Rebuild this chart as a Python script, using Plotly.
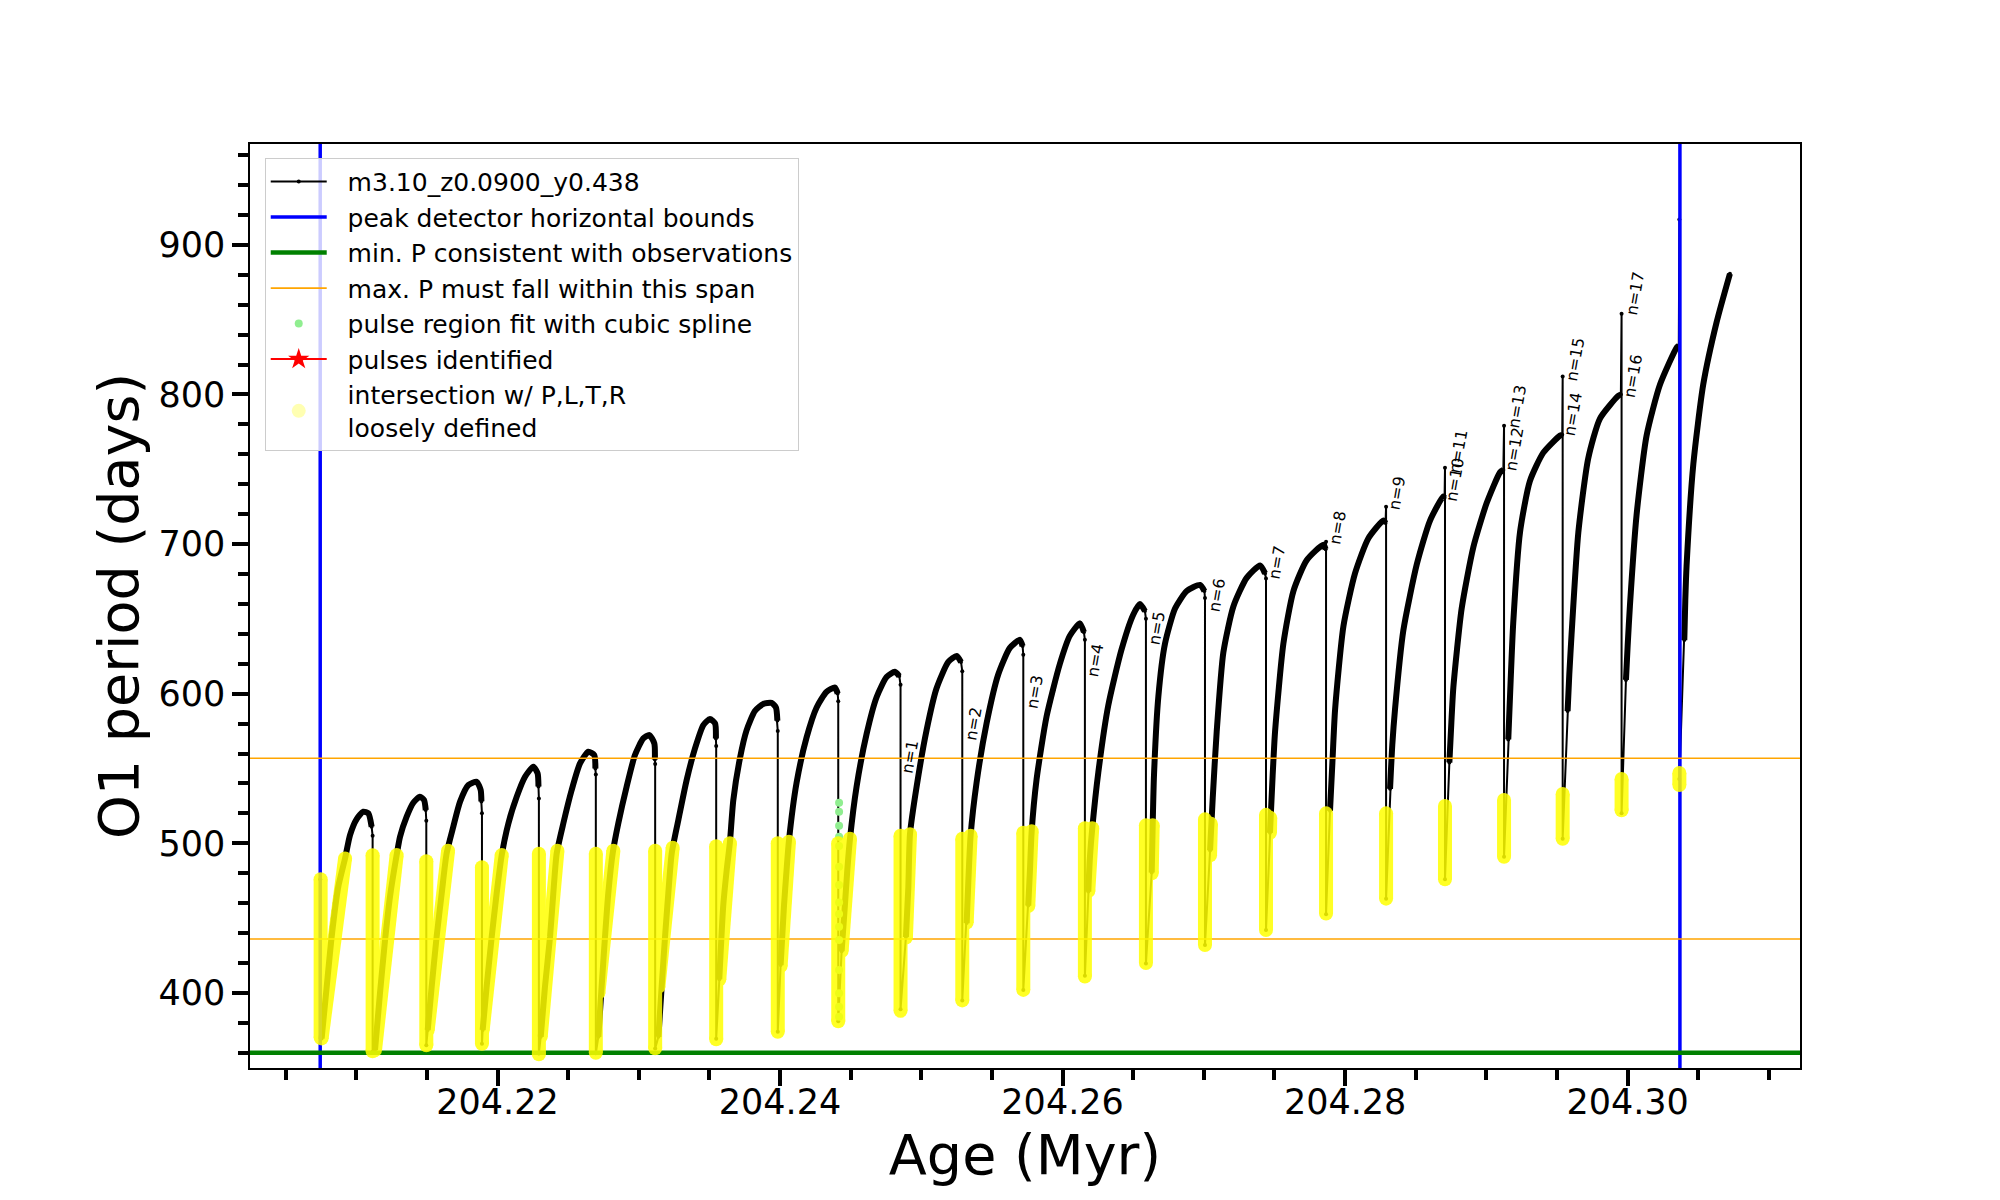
import plotly.graph_objects as go

# ---------------- data ----------------
start_age = [204.20745, 204.20748]
start_period = [476.0, 369.6]

rise_age = [
    [204.20755, 204.20791, 204.20826, 204.20873, 204.20921, 204.20956, 204.21003, 204.21050, 204.21086, 204.21109],
    [204.21133, 204.21168, 204.21204, 204.21239, 204.21286, 204.21310, 204.21357, 204.21404, 204.21451, 204.21480, 204.21492],
    [204.21506, 204.21534, 204.21569, 204.21605, 204.21640, 204.21687, 204.21735, 204.21794, 204.21853, 204.21881, 204.21886],
    [204.21895, 204.21923, 204.21959, 204.21994, 204.22030, 204.22077, 204.22136, 204.22195, 204.22254, 204.22284, 204.22290],
    [204.22306, 204.22336, 204.22372, 204.22395, 204.22419, 204.22466, 204.22525, 204.22584, 204.22643, 204.22685, 204.22693],
    [204.22714, 204.22737, 204.22761, 204.22784, 204.22815, 204.22855, 204.22914, 204.22973, 204.23032, 204.23075, 204.23110, 204.23114],
    [204.23139, 204.23162, 204.23186, 204.23209, 204.23233, 204.23280, 204.23339, 204.23398, 204.23457, 204.23504, 204.23540, 204.23546],
    [204.23570, 204.23598, 204.23622, 204.23645, 204.23669, 204.23716, 204.23763, 204.23822, 204.23881, 204.23940, 204.23971, 204.23981],
    [204.24004, 204.24028, 204.24046, 204.24063, 204.24117, 204.24188, 204.24259, 204.24330, 204.24389, 204.24408],
    [204.24436, 204.24459, 204.24476, 204.24495, 204.24542, 204.24613, 204.24684, 204.24754, 204.24813, 204.24844],
    [204.24891, 204.24908, 204.24920, 204.24967, 204.25037, 204.25108, 204.25191, 204.25250, 204.25281],
    [204.25321, 204.25333, 204.25349, 204.25391, 204.25462, 204.25545, 204.25627, 204.25698, 204.25717],
    [204.25757, 204.25769, 204.25781, 204.25816, 204.25887, 204.25981, 204.26052, 204.26123, 204.26151],
    [204.26182, 204.26194, 204.26210, 204.26253, 204.26323, 204.26417, 204.26500, 204.26548, 204.26583],
    [204.26631, 204.26638, 204.26647, 204.26678, 204.26725, 204.26796, 204.26879, 204.26973, 204.27004],
    [204.27044, 204.27063, 204.27091, 204.27138, 204.27209, 204.27303, 204.27398, 204.27433],
    [204.27468, 204.27487, 204.27504, 204.27563, 204.27634, 204.27728, 204.27846, 204.27862],
    [204.27893, 204.27910, 204.27929, 204.27988, 204.28070, 204.28165, 204.28271, 204.28286],
    [204.28318, 204.28334, 204.28353, 204.28412, 204.28507, 204.28601, 204.28695, 204.28704],
    [204.28738, 204.28752, 204.28766, 204.28825, 204.28908, 204.29002, 204.29097, 204.29120],
    [204.29155, 204.29172, 204.29190, 204.29238, 204.29308, 204.29403, 204.29521, 204.29537],
    [204.29575, 204.29587, 204.29603, 204.29651, 204.29721, 204.29804, 204.29934, 204.29952],
    [204.29988, 204.30000, 204.30016, 204.30063, 204.30134, 204.30229, 204.30347, 204.30362],
    [204.30401, 204.30408, 204.30417, 204.30465, 204.30535, 204.30630, 204.30724],
]
rise_period = [
    [369.6, 404.1, 437.5, 471.0, 489.9, 505.5, 516.2, 521.1, 520.0, 511.1],
    [361.8, 399.7, 435.3, 464.3, 492.1, 504.4, 517.8, 527.1, 531.1, 528.9, 522.2],
    [375.2, 404.1, 437.5, 466.5, 493.3, 511.1, 527.8, 538.9, 541.1, 535.6, 528.0],
    [375.2, 404.1, 437.5, 466.5, 492.1, 513.3, 531.1, 544.5, 551.2, 546.7, 538.0],
    [370.7, 404.1, 437.5, 466.5, 493.2, 513.3, 535.6, 553.4, 561.2, 559.0, 550.0],
    [370.7, 404.1, 437.5, 466.5, 493.2, 513.3, 537.8, 559.0, 570.1, 572.3, 566.8, 556.0],
    [370.7, 404.1, 437.5, 466.5, 493.2, 515.5, 542.3, 563.4, 579.0, 583.0, 580.1, 570.0],
    [409.2, 458.4, 481.8, 500.5, 528.7, 556.8, 575.5, 588.4, 593.1, 593.8, 590.8, 582.0],
    [418.6, 458.4, 481.8, 501.7, 540.4, 570.8, 590.8, 601.3, 604.1, 600.1],
    [427.9, 458.4, 481.8, 502.9, 538.0, 573.2, 597.8, 611.1, 614.6, 611.8],
    [437.3, 470.1, 506.4, 538.0, 575.5, 603.6, 621.2, 625.2, 621.2],
    [446.7, 474.8, 505.2, 540.4, 580.2, 613.0, 630.6, 636.0, 631.8],
    [458.4, 481.8, 507.6, 542.7, 584.9, 620.0, 638.8, 647.0, 641.1],
    [467.7, 491.2, 509.9, 547.4, 591.9, 629.4, 652.8, 659.9, 655.2],
    [480.5, 512.9, 545.2, 598.1, 633.4, 656.9, 668.6, 672.7, 668.6],
    [495.2, 530.5, 574.6, 627.5, 658.3, 677.4, 685.7, 680.4],
    [507.0, 545.2, 574.6, 633.4, 668.6, 689.2, 699.5, 696.5],
    [521.7, 554.0, 589.3, 645.1, 680.4, 703.9, 715.7, 714.0],
    [536.4, 565.8, 589.3, 642.2, 686.3, 715.7, 731.8, 731.0],
    [554.0, 580.5, 604.0, 656.9, 698.0, 727.4, 748.0, 749.5],
    [569.4, 609.2, 647.2, 707.9, 742.1, 761.1, 772.5, 773.0],
    [588.4, 613.0, 639.6, 707.9, 757.3, 783.9, 799.1, 800.0],
    [609.2, 632.0, 658.6, 719.3, 772.5, 806.6, 831.3, 832.5],
    [635.8, 662.4, 685.2, 753.5, 806.6, 848.4, 880.7],
]

drop_age = [204.21116, 204.21496, 204.21890, 204.22293, 204.22696, 204.23116, 204.23548,
            204.23984, 204.24412, 204.24853, 204.25290, 204.25722, 204.26158, 204.26590,
            204.27008, 204.27440, 204.27865, 204.28290, 204.28707, 204.29125, 204.29540,
            204.29957, 204.30366]
drop_top = [505.0, 515.0, 520.0, 530.0, 546.0, 553.0, 565.0, 575.0, 595.0, 606.0, 615.0,
            626.0, 636.0, 650.0, 664.0, 677.0, 701.5, 725.0, 751.0, 779.0, 812.0, 854.0, 917.0]
drop_min = [360.7, 365.0, 366.0, 359.5, 359.6, 362.9, 369.3, 374.0, 381.0, 389.0, 395.0,
            402.0, 411.5, 419.7, 432.0, 442.0, 452.6, 463.0, 476.0, 491.0, 503.0, 520.0, 543.0]

# "loosely defined" intersections (yellow): vertical spans on the drops
yellow_drop_age = [204.20748] + drop_age
yellow_drop_hi = [476, 492, 488, 484, 493, 493, 495, 498, 500, 500, 505, 503, 507, 510, 512,
                  516, 519, 520, 520, 525, 529, 533, 543, 547]
yellow_drop_lo = [370, 361, 365, 366, 359, 360, 363, 369, 374, 381, 388, 395, 402, 411, 420,
                  432, 442, 453, 463, 476, 491, 503, 522, 539]
# ... and on the beginning of the rises
yellow_rise_age0 = [204.20755, 204.21133, 204.21506, 204.21895, 204.22306, 204.22714, 204.23139,
                    204.23570, 204.24004, 204.24436, 204.24891, 204.25321, 204.25757, 204.26182,
                    204.26631, 204.27044, 204.27468]
yellow_rise_p0 = [369.6, 361.8, 375.2, 375.2, 370.7, 400.0, 404.0, 409.0, 418.0, 428.0, 437.0,
                  447.0, 458.0, 468.0, 480.0, 492.0, 507.0]
yellow_rise_age1 = [204.20921, 204.21286, 204.21650, 204.22030, 204.22424, 204.22820, 204.23240,
                    204.23645, 204.24063, 204.24495, 204.24920, 204.25349, 204.25781, 204.26210,
                    204.26638, 204.27050, 204.27470]
yellow_rise_p1 = [489.9, 492.1, 495.0, 492.1, 495.0, 495.0, 497.0, 500.0, 501.0, 503.0, 506.0,
                  505.0, 508.0, 510.0, 512.0, 513.0, 517.0]

# pulse region fitted with cubic spline (light green)
spline_age = [204.24418] * 15
spline_period = [527.1, 521.1, 511.7, 504.4, 498.2, 484.3, 472.1, 460.5, 452.7, 444.2, 435.3,
                 415.3, 399.7, 390.8, 384.1]

# pulse labels
label_text = ["n=%d" % i for i in range(1, 18)]
label_age = [204.24920, 204.25368, 204.25805, 204.26229, 204.26666, 204.27091, 204.27516,
             204.27945, 204.28365, 204.28778, 204.28799, 204.29195, 204.29217, 204.29615,
             204.29627, 204.30040, 204.30052]
label_period = [557.9, 580.2, 601.3, 622.4, 643.6, 665.7, 687.7, 711.3, 733.9, 743.0, 762.0,
                763.5, 792.0, 787.0, 823.5, 812.5, 867.5]

peak_bounds = [204.20745, 204.30370]
min_period_obs = 360.0
max_period_span = [436.0, 556.8]

x_range = [204.20248, 204.31220]
y_range = [349.8, 967.4]

FONT = "DejaVu Sans"
PAD = "&nbsp;&nbsp;"

# ---------------- build series ----------------
age, period = list(start_age), list(start_period)
thick_x, thick_y = [], []
for k in range(len(rise_age)):
    age += rise_age[k]
    period += rise_period[k]
    thick_x += rise_age[k] + [None]
    thick_y += rise_period[k] + [None]
    if k < len(drop_age):
        age += [drop_age[k], drop_age[k]]
        period += [drop_top[k], drop_min[k]]

yx, yy = [], []
for a, hi, lo in zip(yellow_drop_age, yellow_drop_hi, yellow_drop_lo):
    yx += [a, a, None]
    yy += [hi, lo, None]
for a0, p0, a1, p1 in zip(yellow_rise_age0, yellow_rise_p0, yellow_rise_age1, yellow_rise_p1):
    yx += [a0, a1, None]
    yy += [p0, p1, None]

fig = go.Figure()

fig.add_trace(go.Scatter(
    x=age, y=period, mode="lines+markers", name=PAD + "m3.10_z0.0900_y0.438",
    line=dict(color="black", width=2), marker=dict(color="black", size=4)))
fig.add_trace(go.Scatter(
    x=thick_x, y=thick_y, mode="lines", showlegend=False,
    line=dict(color="black", width=6, shape="spline", smoothing=0.6)))

fig.add_trace(go.Scatter(
    x=[peak_bounds[0], peak_bounds[0], None, peak_bounds[1], peak_bounds[1]],
    y=[y_range[0], y_range[1], None, y_range[0], y_range[1]],
    mode="lines", name=PAD + "peak detector horizontal bounds",
    line=dict(color="#0000ff", width=3.5)))
fig.add_trace(go.Scatter(
    x=x_range, y=[min_period_obs, min_period_obs], mode="lines",
    name=PAD + "min. P consistent with observations",
    line=dict(color="#008000", width=4.5)))
fig.add_trace(go.Scatter(
    x=[x_range[0], x_range[1], None, x_range[0], x_range[1]],
    y=[max_period_span[0], max_period_span[0], None, max_period_span[1], max_period_span[1]],
    mode="lines", name=PAD + "max. P must fall within this span",
    line=dict(color="#ffa500", width=1.6)))
fig.add_trace(go.Scatter(
    x=spline_age, y=spline_period, mode="markers",
    name=PAD + "pulse region fit with cubic spline",
    marker=dict(color="#90ee90", size=8)))
fig.add_trace(go.Scatter(
    x=[None], y=[None], mode="lines+markers", name=PAD + "pulses identified",
    line=dict(color="red", width=2),
    marker=dict(color="red", symbol="star", size=26)))
fig.add_trace(go.Scatter(
    x=yx, y=yy, mode="lines+markers", showlegend=False, opacity=0.85,
    line=dict(color="#ffff00", width=14), marker=dict(color="#ffff00", size=14)))
fig.add_trace(go.Scatter(
    x=[None], y=[None], mode="markers",
    name=PAD + "intersection w/ P,L,T,R<br>" + PAD + "loosely defined",
    marker=dict(color="rgba(255,255,0,0.3)", size=14)))

for t, a, p in zip(label_text, label_age, label_period):
    fig.add_annotation(x=a, y=p, text=t, showarrow=False, textangle=-80,
                       font=dict(family=FONT, size=16, color="black"),
                       xanchor="center", yanchor="middle")

fig.update_layout(
    width=1992, height=1192,
    margin=dict(l=242, r=200, t=136, b=132, pad=0),
    paper_bgcolor="white", plot_bgcolor="white",
    font=dict(family=FONT, color="black"),
    legend=dict(x=0.0095, y=0.985, xanchor="left", yanchor="top",
                bgcolor="rgba(255,255,255,0.8)", bordercolor="#cccccc", borderwidth=1,
                font=dict(family=FONT, size=25, color="black"),
                itemwidth=56, traceorder="normal"),
)
fig.update_xaxes(
    range=x_range, tick0=204.20, dtick=0.02, tickformat=".2f",
    showgrid=False, zeroline=False, showline=True, linecolor="black", linewidth=1.5, mirror=True,
    ticks="outside", ticklen=16, tickwidth=4, tickcolor="black",
    ticklabelstandoff=-14,
    tickfont=dict(family=FONT, size=35, color="black"),
    minor=dict(dtick=0.005, tick0=204.20, ticks="outside", ticklen=10, tickwidth=3.5, tickcolor="black"),
    title=dict(text="Age (Myr)", font=dict(family=FONT, size=55.6, color="black"), standoff=12),
)
fig.update_yaxes(
    range=y_range, tick0=0, dtick=100,
    showgrid=False, zeroline=False, showline=True, linecolor="black", linewidth=1.5, mirror=True,
    ticks="outside", ticklen=16, tickwidth=4, tickcolor="black",
    tickfont=dict(family=FONT, size=35, color="black"),
    minor=dict(dtick=20, tick0=0, ticks="outside", ticklen=10, tickwidth=3.5, tickcolor="black"),
    title=dict(text="O1 period (days)", font=dict(family=FONT, size=55.6, color="black"), standoff=2),
)

fig.write_html("out.html")
